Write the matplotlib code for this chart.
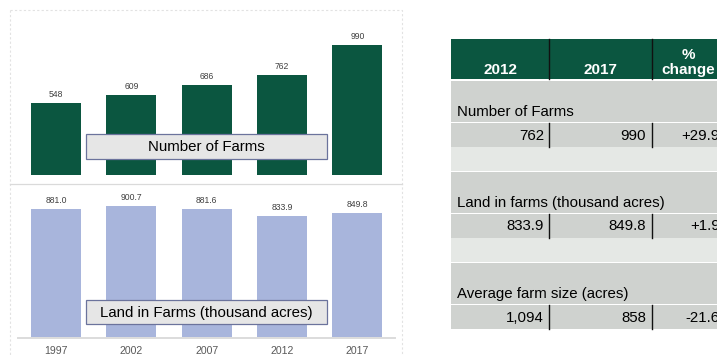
import matplotlib.pyplot as plt
from matplotlib.patches import Rectangle

plt.rcParams['font.family'] = ['Liberation Sans', 'DejaVu Sans']

# census data
years = ['1997', '2002', '2007', '2012', '2017']
farms = [548, 609, 686, 762, 990]
land = [881.0, 900.7, 881.6, 833.9, 849.8]

# summary table
col_heads = ['2012', '2017', '%\nchange']
row_names = ['Number of Farms', 'Land in farms (thousand acres)', 'Average farm size (acres)']
vals_2012 = ['762', '833.9', '1,094']
vals_2017 = ['990', '849.8', '858']
pct_change = ['+29.9%', '+1.9%', '-21.6%']

W, H = 717, 356
green = '#0b5640'
blue = '#a8b5dc'
gray_row = '#cfd2cf'
light_row = '#e5e8e5'

fig = plt.figure(figsize=(W / 100, H / 100), dpi=100)


def px_axes(x0, y0, x1, y1, **kw):
    # axes placed by pixel box (top-left origin)
    return fig.add_axes([x0 / W, 1 - y1 / H, (x1 - x0) / W, (y1 - y0) / H], **kw)


def bar_panel(ax, values, color, fmt, ymax):
    xs = range(len(values))
    bars = ax.bar(xs, values, width=0.664, color=color)
    for b, v in zip(bars, values):
        ax.annotate(fmt.format(v), (b.get_x() + b.get_width() / 2, v),
                    xytext=(0, 3), textcoords='offset points',
                    ha='center', va='bottom', fontsize=6.2, color='#404040')
    ax.set_xlim(-0.5, len(values) - 0.5)
    ax.set_ylim(0, ymax)
    ax.axis('off')
    return bars


# top panel: number of farms
ax1 = px_axes(18.4, 30.5, 395, 175)
bar_panel(ax1, farms, green, '{:d}', 1100)

# bottom panel: land in farms, with the year axis under it
ax2 = px_axes(18.4, 191.6, 395, 337)
bar_panel(ax2, land, blue, '{:.1f}', 1000)
for i, y in enumerate(years):
    ax2.annotate(y, (i, 0), xytext=(0, -10), textcoords='offset points',
                 ha='center', va='center', fontsize=7.6, color='#595959',
                 annotation_clip=False)

# overlay in pixel coordinates for frames, label boxes and the table
ov = fig.add_axes([0, 0, 1, 1], zorder=5)
ov.set_xlim(0, W)
ov.set_ylim(H, 0)
ov.axis('off')
ov.patch.set_alpha(0)

# panel frames
ov.plot([10, 402, 402], [10, 10, 356], ls=(0, (2, 2)), color='#e2e2e2', lw=0.8)
ov.plot([10, 10], [10, 356], ls=(0, (2, 2)), color='#e2e2e2', lw=0.8)
ov.plot([10, 402], [184, 184], color='#dadada', lw=0.9)
ov.plot([18, 395], [337.5, 337.5], color='#dcdcdc', lw=1.4)

# chart titles in boxes
for (y0, y1), txt in [((134, 159), 'Number of Farms'),
                      ((300, 324), 'Land in Farms (thousand acres)')]:
    ov.add_patch(Rectangle((86, y0), 241, y1 - y0, facecolor='#e6e6e6',
                           edgecolor='#6b739c', lw=0.9))
    ov.text(206.5, (y0 + y1) / 2 + 0.5, txt, ha='center', va='center', fontsize=10.8)

# table
tx0, tx1 = 451, 740
div = [549, 652]
ov.add_patch(Rectangle((tx0, 39), tx1 - tx0, 40, facecolor=green, lw=0))
for x in div:
    ov.plot([x, x], [39, 79], color='#111111', lw=1.0)
head_x = [500, 600, 688]
for x, h in zip(head_x, col_heads):
    ov.text(x, 77, h, ha='center', va='bottom', fontsize=11, fontweight='bold',
            color='white', linespacing=1.05)

for i, name in enumerate(row_names):
    top = 81 + 91 * i
    ov.add_patch(Rectangle((tx0, top), tx1 - tx0, 41, facecolor=gray_row, lw=0))
    ov.text(457, top + 31, name, ha='left', va='center', fontsize=10.8)
    dtop = top + 42
    ov.add_patch(Rectangle((tx0, dtop), tx1 - tx0, 24, facecolor=gray_row, lw=0))
    for x in div:
        ov.plot([x, x], [dtop, dtop + 24], color='#111111', lw=1.0)
    ov.text(544, dtop + 12.5, vals_2012[i], ha='right', va='center', fontsize=10.8)
    ov.text(646, dtop + 12.5, vals_2017[i], ha='right', va='center', fontsize=10.8)
    ov.text(733, dtop + 12.5, pct_change[i], ha='right', va='center', fontsize=10.8)
    if i < len(row_names) - 1:
        ov.add_patch(Rectangle((tx0, dtop + 24), tx1 - tx0, 24, facecolor=light_row, lw=0))

fig.savefig('out.png', dpi=100)
